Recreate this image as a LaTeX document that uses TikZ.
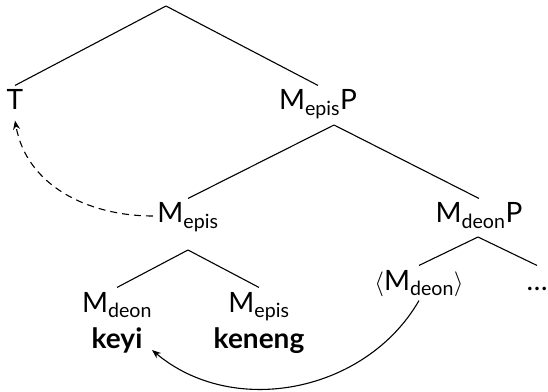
\documentclass[tikz,border=0pt]{standalone}
\usepackage{fontspec}
\setmainfont{Lato}
\usetikzlibrary{arrows.meta}

\begin{document}
\begin{tikzpicture}[x=1pt,y=1pt, line width=1.1pt, font=\fontsize{28}{33}\selectfont,
	lbl/.style={anchor=base, inner sep=4pt, text height=20pt, text depth=6pt},
	mv/.style={-{Stealth[length=9pt,width=7pt]}}]
			\useasboundingbox (0,0) rectangle (548,391);
			% upper tree
			\coordinate (top) at (166,385);
			\node[lbl] (T) at (15,281) {T};
			\node[lbl] (episP) at (318,281) {M\textsubscript{epis}P};
			\draw (top) -- (T.north);
			\draw (top) -- (episP.north);
			\coordinate (episfork) at (334,266);
			\node[lbl] (epis) at (188,168) {M\textsubscript{epis}};
			\node[lbl] (deonP) at (479,168) {M\textsubscript{deon}P};
			\draw (episfork) -- (epis.north);
			\draw (episfork) -- (deonP.north);
			% lower left: the two modals
			\coordinate (lowfork) at (188,141);
			\node[lbl] (deon) at (117,79) {M\textsubscript{deon}};
			\node[lbl] (epislow) at (259,79) {M\textsubscript{epis}};
			\draw (lowfork) -- (deon.north);
			\draw (lowfork) -- (epislow.north);
			\node[lbl] (keyi) at (117,43) {\textbf{keyi}};
			\node[lbl] (keneng) at (259,43) {\textbf{keneng}};
			% lower right
			\coordinate (deonfork) at (478,154);
			\node[lbl] (trace) at (419,101) {$\langle$M\textsubscript{deon}$\rangle$};
			\node[lbl] (rest) at (537,101) {\dots};
			\draw (deonfork) -- (trace.north);
			\draw (deonfork) -- (rest.north);
			% movement
			\coordinate (keyiend) at (152,41);
			\draw[mv, dash pattern=on 7pt off 5pt] (epis.west) to[out=180,in=-80] (T.south);
			\draw[mv] (trace.south) to[out=-120,in=-40] (keyiend);
\end{tikzpicture}
\end{document}
